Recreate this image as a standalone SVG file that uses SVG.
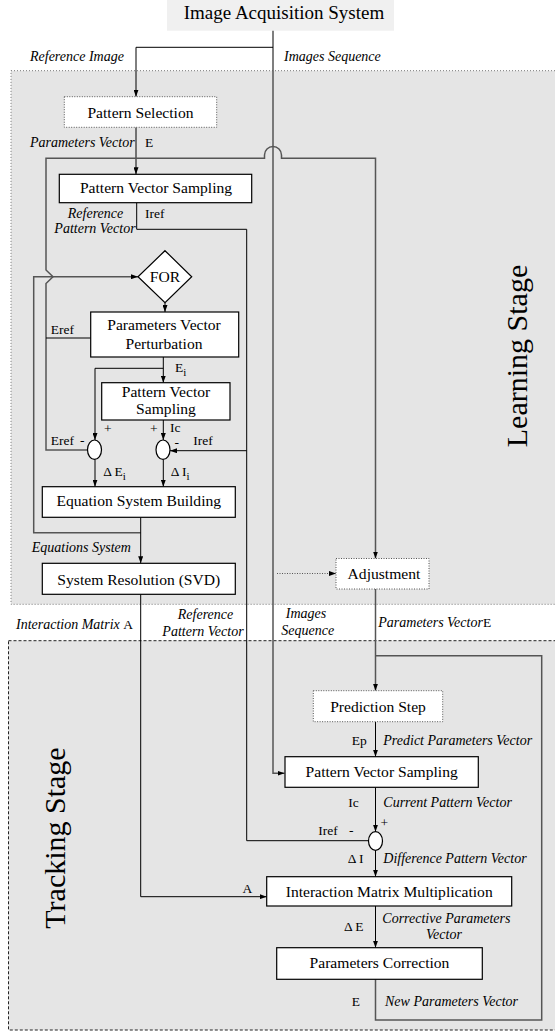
<svg xmlns="http://www.w3.org/2000/svg" width="555" height="1036" viewBox="0 0 555 1036">
<defs>
<marker id="ah" markerUnits="userSpaceOnUse" markerWidth="7" markerHeight="5" refX="7" refY="2.5" orient="auto"><path d="M0,0 L7,2.5 L0,5 z" fill="#000"/></marker>
<style>
.k{stroke:#000;stroke-width:1;fill:none}
.g{stroke:#555;stroke-width:1.5;fill:none}
.dt{stroke:#555;stroke-width:1;fill:none;stroke-dasharray:1 1.5}
.box{fill:#fff;stroke:#000;stroke-width:1.2}
.dbox{fill:#fff;stroke:#555;stroke-width:1;stroke-dasharray:1 1.5}
text{font-family:'Liberation Serif','Times New Roman',serif;fill:#000}
.n{font-size:15.6px}
.it{font-size:14px;font-style:italic}
.lb{font-size:13.5px}
.big{font-size:30px}
</style>
</defs>
<g id="learning-stage">
<rect x="11" y="70.7" width="560" height="533.6" fill="#e5e5e5" stroke="#777" stroke-width="1" stroke-dasharray="1 2"/>
<text class="big" transform="translate(527,356) rotate(-90)" text-anchor="middle">Learning Stage</text>
</g>
<g id="tracking-stage">
<rect x="8.5" y="640.7" width="560" height="389.3" fill="#e5e5e5" stroke="#222" stroke-width="1" stroke-dasharray="3 2"/>
<text class="big" transform="translate(64.5,838) rotate(-90)" text-anchor="middle">Tracking Stage</text>
</g>
<g id="acquisition">
<rect x="167" y="0" width="227" height="30.7" fill="#f0f0f0"/>
<text x="284" y="19" font-size="19" text-anchor="middle">Image Acquisition System</text>
</g>
<g id="connectors">
<path class="g" d="M273,30.7 V773.3 H284.5" marker-end="url(#ah)"/>
<path class="k" d="M273,47.3 H136 V96.7" marker-end="url(#ah)"/>
<path class="k" d="M136,127.3 V174.3" marker-end="url(#ah)"/>
<path class="g" d="M87.3,450 H46 V283.5 L53,276.7 L46,270 V158.3 H264.5 V155 A8.5,8.5 0 0 1 281.5,155 V158.3 H375.5 V558.5" marker-end="url(#ah)"/>
<path class="k" d="M90.7,338 H46"/>
<path class="g" d="M140.7,532.7 H33.7 V276.7 H138" marker-end="url(#ah)"/>
<path class="k" d="M136.7,202.7 V229.3 H246.7 V840.7 H368.5"/>
<path class="k" d="M246.7,450.7 H170" marker-end="url(#ah)"/>
<path class="k" d="M165,302.7 V312" marker-end="url(#ah)"/>
<path class="k" d="M163.3,357 V382.7" marker-end="url(#ah)"/>
<path class="k" d="M163.3,368.3 H95 V440" marker-end="url(#ah)"/>
<path class="k" d="M163.3,420 V440" marker-end="url(#ah)"/>
<path class="k" d="M95,459.3 V486.7" marker-end="url(#ah)"/>
<path class="k" d="M163.3,459.3 V486.7" marker-end="url(#ah)"/>
<path class="k" d="M140.7,517.3 V563.3" marker-end="url(#ah)"/>
<path class="k" d="M140.7,594.3 V896.7 H266.7" marker-end="url(#ah)"/>
<path class="dt" d="M277,573.5 H336" marker-end="url(#ah)"/>
<path class="g" d="M375.5,589 V690.7" marker-end="url(#ah)"/>
<path class="g" d="M375.5,979.3 V1020 H541.7 V655.7 H375.5"/>
<path class="k" d="M375.5,721.7 V756.7" marker-end="url(#ah)"/>
<path class="k" d="M375.5,787.3 V831.7" marker-end="url(#ah)"/>
<path class="k" d="M375.5,850.3 V876.7" marker-end="url(#ah)"/>
<path class="k" d="M375.5,906 V947.7" marker-end="url(#ah)"/>
</g>
<g id="labels">
<text class="it" x="30" y="60.7">Reference Image</text>
<text class="it" x="284" y="60.7">Images Sequence</text>
<text x="30" y="146.7"><tspan class="it">Parameters Vector</tspan><tspan class="lb" x="145">E</tspan></text>
<text class="it" x="95.5" y="218" text-anchor="middle">Reference</text>
<text class="it" x="95" y="233" text-anchor="middle">Pattern Vector</text>
<text class="lb" x="145" y="218">Iref</text>
<text class="lb" x="50.7" y="334">Eref</text>
<text class="lb" x="175" y="371.7">E<tspan font-size="11" dy="4">i</tspan></text>
<text class="lb" x="104" y="433">+</text>
<text class="lb" x="150" y="433">+</text>
<text class="lb" x="170" y="432">Ic</text>
<text class="lb" x="50.7" y="445">Eref</text>
<text class="lb" x="80" y="445">-</text>
<text class="lb" x="174.5" y="446.5">-</text>
<text class="lb" x="193.3" y="445">Iref</text>
<text class="lb" x="103.3" y="475.7">Δ E<tspan font-size="11" dy="4">i</tspan></text>
<text class="lb" x="170.7" y="475.7">Δ I<tspan font-size="11" dy="4">i</tspan></text>
<text class="it" x="31.7" y="551.7">Equations System</text>
<text x="16" y="629"><tspan class="it">Interaction Matrix </tspan><tspan class="lb">A</tspan></text>
<text class="it" x="205.5" y="618.5" text-anchor="middle">Reference</text>
<text class="it" x="203" y="635.5" text-anchor="middle">Pattern Vector</text>
<text class="it" x="306" y="618.3" text-anchor="middle">Images</text>
<text class="it" x="307.8" y="635" text-anchor="middle">Sequence</text>
<text x="378.3" y="627.3"><tspan class="it">Parameters Vector</tspan><tspan class="lb">E</tspan></text>
<text class="lb" x="351.7" y="745">Ep</text>
<text class="it" x="383.3" y="745">Predict Parameters Vector</text>
<text class="lb" x="348.3" y="806.7">Ic</text>
<text class="it" x="383.3" y="806.7">Current Pattern Vector</text>
<text class="lb" x="380.5" y="827">+</text>
<text class="lb" x="318.3" y="835">Iref</text>
<text class="lb" x="349" y="835">-</text>
<text class="lb" x="347.7" y="863.3">Δ I</text>
<text class="it" x="383.3" y="863.3">Difference Pattern Vector</text>
<text class="lb" x="242.5" y="892.7">A</text>
<text class="lb" x="344" y="930.7">Δ E</text>
<text class="it" x="382.3" y="923.3">Corrective Parameters</text>
<text class="it" x="444" y="939.3" text-anchor="middle">Vector</text>
<text class="lb" x="351.7" y="1006">E</text>
<text class="it" x="385" y="1006">New Parameters Vector</text>
</g>
<g id="pattern-selection">
<rect class="dbox" x="64.3" y="96.7" width="152.4" height="30.6"/>
<text class="n" x="140.5" y="118" text-anchor="middle">Pattern Selection</text>
</g>
<g id="pattern-vector-sampling-ref">
<rect class="box" x="59.3" y="174.3" width="192.4" height="28.4"/>
<text class="n" x="156" y="193.3" text-anchor="middle">Pattern Vector Sampling</text>
</g>
<g id="for">
<polygon points="165,250.7 191.7,276.7 165,302.7 138,276.7" fill="#fff" stroke="#000" stroke-width="1.2"/>
<text class="n" x="165" y="282" text-anchor="middle">FOR</text>
</g>
<g id="perturbation">
<rect class="box" x="90.7" y="312" width="148" height="45"/>
<text class="n" x="164" y="330" text-anchor="middle">Parameters Vector</text>
<text class="n" x="164" y="349" text-anchor="middle">Perturbation</text>
</g>
<g id="pattern-vector-sampling-inner">
<rect class="box" x="101.7" y="382.7" width="128.3" height="37.3"/>
<text class="n" x="166" y="397.3" text-anchor="middle">Pattern Vector</text>
<text class="n" x="166" y="413.5" text-anchor="middle">Sampling</text>
</g>
<g id="sum-e">
<ellipse cx="94.5" cy="449.7" rx="7" ry="9.7" fill="#fff" stroke="#000" stroke-width="1.2"/>
</g>
<g id="sum-i">
<ellipse cx="163" cy="449.7" rx="7" ry="9.7" fill="#fff" stroke="#000" stroke-width="1.2"/>
</g>
<g id="equation-system-building">
<rect class="box" x="42.3" y="486.7" width="193" height="30.6"/>
<text class="n" x="138.8" y="506" text-anchor="middle">Equation System Building</text>
</g>
<g id="system-resolution">
<rect class="box" x="42.3" y="563.3" width="193" height="31"/>
<text class="n" x="138.8" y="585" text-anchor="middle">System Resolution (SVD)</text>
</g>
<g id="adjustment">
<rect class="dbox" x="336" y="558.5" width="93" height="30.5"/>
<text class="n" x="384" y="579" text-anchor="middle">Adjustment</text>
</g>
<g id="prediction-step">
<rect class="dbox" x="313.3" y="690.7" width="129.4" height="31"/>
<text class="n" x="378" y="711.7" text-anchor="middle">Prediction Step</text>
</g>
<g id="pattern-vector-sampling-track">
<rect class="box" x="285" y="756.7" width="193.3" height="30.6"/>
<text class="n" x="381.7" y="777.3" text-anchor="middle">Pattern Vector Sampling</text>
</g>
<g id="sum-track">
<ellipse cx="375.5" cy="841" rx="7" ry="9.3" fill="#fff" stroke="#000" stroke-width="1.2"/>
</g>
<g id="interaction-matrix-multiplication">
<rect class="box" x="266.7" y="876.7" width="245" height="29.3"/>
<text class="n" x="389.2" y="896.7" text-anchor="middle">Interaction Matrix Multiplication</text>
</g>
<g id="parameters-correction">
<rect class="box" x="276.7" y="947.7" width="205.6" height="31.6"/>
<text class="n" x="379.5" y="968.3" text-anchor="middle">Parameters Correction</text>
</g>
</svg>
